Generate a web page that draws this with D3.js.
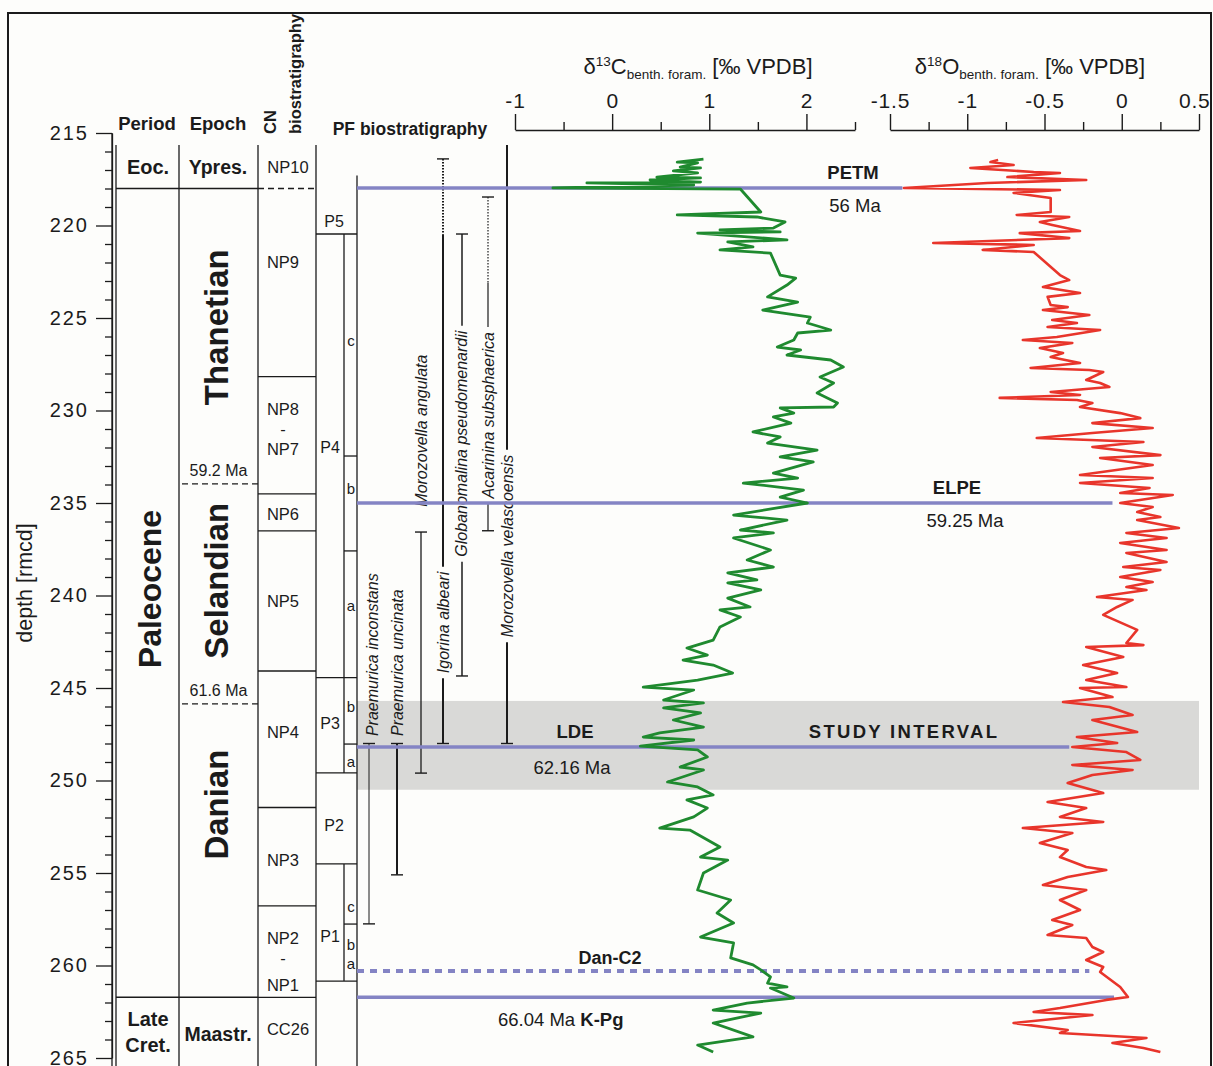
<!DOCTYPE html>
<html>
<head>
<meta charset="utf-8">
<script src="https://cdn.jsdelivr.net/npm/d3@7"></script>
<style>
  body { margin: 0; background: #fdfdfb; }
  svg { display: block; font-family: "Liberation Sans", Arial, sans-serif; }
</style>
</head>
<body>
<svg id="chart" width="1213" height="1066"></svg>
<script>
// ---------------- data ----------------
const depthTicks = [215, 220, 225, 230, 235, 240, 245, 250, 255, 260, 265];
const c13Ticks = [-1, 0, 1, 2];
const c13Minor = [-0.5, 0.5, 1.5, 2.5];
const o18Ticks = [-1.5, -1, -0.5, 0, 0.5];
const o18Minor = [-1.25, -0.75, -0.25, 0.25];

// benthic foraminifera delta13C (permil VPDB) against depth (rmcd)
const c13Depth = [216.41,216.57,216.62,216.84,216.89,217.05,217.16,217.38,217.43,217.54,
  217.65,217.70,217.81,217.97,218.03,219.27,219.43,219.54,219.81,220.14,
  220.24,220.35,220.41,220.78,220.89,221.16,221.32,221.49,222.68,222.84,
  223.22,223.86,224.14,224.57,224.95,225.27,225.65,225.81,226.19,226.57,
  226.73,227.00,227.27,227.65,228.19,228.51,229.05,229.59,229.81,229.86,
  230.14,230.35,230.68,231.16,231.43,231.76,232.14,232.51,232.78,233.38,
  233.65,233.92,234.30,234.68,235.00,235.65,235.92,236.46,236.62,236.89,
  237.54,238.08,238.46,238.78,239.16,239.32,239.70,240.14,240.62,240.78,
  241.16,241.70,242.41,242.84,243.22,243.49,243.76,244.19,244.57,244.95,
  245.11,245.65,245.81,246.08,246.35,246.73,247.11,247.43,247.65,247.81,
  248.14,248.35,248.73,249.27,249.43,250.08,250.35,250.78,251.05,251.49,
  251.97,252.57,252.68,253.59,254.14,254.30,255.00,255.92,256.46,257.16,
  257.70,258.46,258.78,259.59,259.97,260.24,260.62,260.95,261.16,261.22,
  261.76,262.03,262.41,262.57,263.11,263.86,264.30,264.68];
const c13Value = [0.94,0.67,0.88,0.70,0.91,0.63,0.88,0.46,0.91,0.39,
  0.91,-0.26,0.84,-0.61,1.32,1.53,0.67,1.49,1.78,1.66,
  1.11,1.73,0.88,1.80,1.19,1.45,1.11,1.63,1.73,1.89,
  1.80,1.60,1.91,1.55,2.04,2.01,2.25,1.91,1.87,1.70,
  1.94,1.80,2.25,2.38,2.14,2.28,2.11,2.32,2.28,1.73,
  1.87,1.66,1.84,1.45,1.73,1.60,2.11,1.73,2.07,1.66,
  1.91,1.35,1.97,1.73,2.01,1.25,1.80,1.32,1.66,1.25,
  1.63,1.39,1.66,1.19,1.49,1.19,1.53,1.19,1.42,1.11,
  1.32,1.11,1.04,0.77,0.98,0.73,1.04,1.24,0.88,0.32,
  0.84,0.53,0.94,0.53,0.91,0.63,0.94,0.49,0.32,0.84,
  0.29,0.88,0.98,0.70,0.94,0.57,0.88,1.04,0.77,0.98,
  0.84,0.49,0.80,1.11,0.91,1.19,0.94,0.88,1.22,1.08,
  1.25,0.91,1.25,1.22,1.45,1.53,1.63,1.60,1.80,1.63,
  1.87,1.39,1.04,1.53,1.04,1.45,0.88,1.04];

// benthic foraminifera delta18O (permil VPDB) against depth (rmcd)
const o18Depth = [216.46,216.57,216.73,216.89,217.11,217.16,217.38,217.54,217.70,217.97,
  218.08,218.24,218.51,219.27,219.43,219.54,219.81,219.97,220.30,220.41,
  220.68,220.95,221.05,221.32,221.43,222.68,222.95,223.32,223.65,223.86,
  224.30,224.41,224.57,224.84,225.11,225.27,225.49,225.65,226.03,226.19,
  226.35,226.62,226.89,227.11,227.43,227.70,227.81,227.92,228.35,228.51,
  228.73,229.00,229.16,229.32,229.43,229.59,229.81,230.14,230.41,230.68,
  230.95,231.22,231.49,231.70,231.97,232.41,232.57,232.95,233.49,233.65,
  233.92,234.19,234.46,234.57,235.00,235.22,235.49,235.76,235.92,236.35,
  236.62,236.89,237.16,237.54,237.70,238.19,238.46,238.62,239.00,239.27,
  239.54,239.70,240.08,240.24,240.62,241.05,241.86,242.57,242.68,242.78,
  243.32,243.76,244.19,244.57,244.95,245.00,245.49,245.76,246.03,246.46,
  246.73,247.38,247.65,247.97,248.19,248.46,248.89,249.16,249.43,249.70,
  250.14,250.68,251.16,251.49,251.97,252.24,252.57,252.84,253.38,253.76,
  254.14,254.68,254.84,255.22,255.65,255.92,256.46,257.00,257.54,257.81,
  258.35,258.51,259.00,259.27,259.70,260.08,260.35,261.16,261.70,261.86,
  262.30,262.51,262.68,263.11,263.49,263.65,263.92,264.19,264.46,264.68];
const o18Value = [-0.80,-0.85,-0.70,-0.98,-0.57,-0.40,-0.74,-0.23,-0.87,-1.41,
  -0.40,-0.70,-0.46,-0.46,-0.68,-0.34,-0.53,-0.45,-0.27,-0.66,
  -0.34,-1.22,-0.57,-0.90,-0.57,-0.40,-0.34,-0.51,-0.27,-0.48,
  -0.46,-0.35,-0.51,-0.21,-0.45,-0.29,-0.48,-0.14,-0.42,-0.64,
  -0.32,-0.53,-0.38,-0.46,-0.27,-0.59,-0.21,-0.12,-0.23,-0.14,
  -0.08,-0.46,-0.27,-0.79,-0.29,-0.19,-0.27,-0.01,0.12,-0.19,
  0.20,-0.19,-0.55,0.14,-0.19,0.25,-0.14,0.20,-0.27,0.20,
  -0.27,0.18,-0.01,0.33,-0.01,0.20,0.10,0.25,0.10,0.37,
  0.03,0.29,-0.01,0.29,0.03,0.29,0.01,0.25,-0.01,0.20,
  0.03,0.16,-0.16,0.07,-0.03,-0.12,0.10,0.03,0.14,-0.23,
  0.01,-0.25,-0.03,-0.23,0.03,-0.27,-0.06,-0.38,-0.08,0.07,
  -0.19,0.10,-0.29,-0.03,-0.32,0.03,0.12,-0.32,0.07,-0.19,
  -0.35,-0.12,-0.48,-0.23,-0.40,-0.12,-0.64,-0.32,-0.53,-0.35,
  -0.40,-0.23,-0.10,-0.35,-0.51,-0.23,-0.40,-0.27,-0.45,-0.32,
  -0.48,-0.23,-0.19,-0.12,-0.23,-0.12,-0.14,-0.01,0.04,-0.10,
  -0.40,-0.57,-0.19,-0.70,-0.35,-0.40,0.16,-0.06,0.14,0.25];

// chronostratigraphy (boundary depths in rmcd)
const sectionTop = 215.65;
const sectionBase = 266.5;
const periodBounds = [218.0, 261.72];
const epochBounds = [218.0, 261.72];
const epochAgeBounds = [233.97, 245.86];
const epochAgeLabels = ["59.2 Ma", "61.6 Ma"];
const periodNames = ["Eoc.", "Paleocene", "Late", "Cret."];
const periodLabelDepth = [216.84, 239.65, 262.9, 264.3];
const epochNames = ["Ypres.", "Thanetian", "Selandian", "Danian", "Maastr."];
const epochLabelDepth = [216.84, 225.5, 239.2, 251.3, 263.7];

// calcareous nannofossil zones
const cnBounds = [228.17, 234.51, 236.51, 244.08, 251.46, 256.78, 261.72];
const cnDashed = [218.0];
const cnNames = ["NP10", "NP9", "NP8", "-", "NP7", "NP6", "NP5", "NP4", "NP3", "NP2", "-", "NP1", "CC26"];
const cnLabelDepth = [216.84, 222.0, 229.92, 231.0, 232.08, 235.62, 240.3, 247.38, 254.3, 258.51, 259.62, 261.08, 263.46];

// planktic foraminifera zones
const pfBounds = [220.46, 244.44, 249.59, 254.51, 260.84];
const pfSubBounds = [232.46, 237.59, 248.03, 257.76];
const pfSubSpans = [[220.46, 249.59], [254.51, 260.84]];
const pfNames = ["P5", "P4", "P3", "P2", "P1"];
const pfLabelDepth = [219.78, 231.97, 246.92, 252.4, 258.43];
const pfSplit = [false, true, true, false, true];
const pfSubNames = ["c", "b", "a", "b", "a", "c", "b", "a"];
const pfSubDepth = [226.3, 234.3, 240.62, 246.08, 249.05, 256.89, 258.95, 259.97];

// planktic foraminifera ranges
const speciesNames = ["Praemurica inconstans", "Praemurica uncinata", "Morozovella angulata",
  "Igorina albeari", "Globanomalina pseudomenardii", "Acarinina subsphaerica", "Morozovella velascoensis"];
const speciesTop = [248.0, 248.0, 236.57, 216.4, 220.46, 218.46, 215.65];
const speciesBase = [257.75, 255.1, 249.6, 248.0, 244.35, 236.5, 248.0];
const speciesDottedTo = [null, null, null, 220.5, null, 223.1, null];
const speciesOpenTop = [false, false, false, false, false, false, true];

// events
const eventNames = ["PETM", "ELPE", "LDE", "Dan-C2", "K-Pg"];
const eventDepth = [217.97, 235.0, 248.19, 260.3, 261.72];
const eventEndO18 = [-1.42, -0.06, -0.34, -0.21, -0.05];
const eventDashed = [false, false, false, true, false];
const eventAges = ["56 Ma", "59.25 Ma", "62.16 Ma", "", "66.04 Ma"];
const studyInterval = [245.7, 250.5];

// ---------------- scales ----------------
const svg = d3.select("#chart");
const INK = "#1b1b1b";
const y = d3.scaleLinear().domain([215, 265]).range([133, 1058]);
const xC = d3.scaleLinear().domain([-1, 2.5]).range([515, 855]);
const xO = d3.scaleLinear().domain([-1.5, 0.5]).range([890, 1199]);

// column layout
const AX = 112, P0 = 116, P1 = 179, E1 = 258, C1 = 316, PFS = 344, PF1 = 357;

function hline(x1, x2, yy, w, dash) {
  const l = svg.append("line").attr("x1", x1).attr("x2", x2).attr("y1", yy).attr("y2", yy)
    .attr("stroke", INK).attr("stroke-width", w || 1.2);
  if (dash) l.attr("stroke-dasharray", dash);
  return l;
}
function vline(x, y1, y2, w, dash, color) {
  const l = svg.append("line").attr("x1", x).attr("x2", x).attr("y1", y1).attr("y2", y2)
    .attr("stroke", color || INK).attr("stroke-width", w || 1.2);
  if (dash) l.attr("stroke-dasharray", dash);
  return l;
}
function label(x, yy, str, size, weight, anchor) {
  return svg.append("text").attr("x", x).attr("y", yy).attr("dy", "0.36em")
    .attr("text-anchor", anchor || "middle").attr("font-size", size)
    .attr("font-weight", weight || "normal").attr("fill", INK).text(str);
}
function vlabel(x, yy, str, size, weight, anchor, style) {
  return svg.append("text").attr("transform", `translate(${x},${yy}) rotate(-90)`)
    .attr("dy", "0.36em").attr("text-anchor", anchor || "middle").attr("font-size", size)
    .attr("font-weight", weight || "normal").attr("font-style", style || "normal")
    .attr("fill", INK).text(str);
}

// outer frame
svg.append("rect").attr("x", 8).attr("y", 13).attr("width", 1203).attr("height", 1090)
  .attr("fill", "none").attr("stroke", INK).attr("stroke-width", 2);

// study interval band
svg.append("rect").attr("x", PF1).attr("y", y(studyInterval[0]))
  .attr("width", xO(0.5) - PF1).attr("height", y(studyInterval[1]) - y(studyInterval[0]))
  .attr("fill", "#d9d9d7");

// ---------------- depth axis ----------------
const yAxis = svg.append("g").attr("transform", `translate(${AX},0)`)
  .call(d3.axisLeft(y).tickValues(depthTicks).tickSize(16).tickPadding(7).tickSizeOuter(0));
const minorDepth = d3.range(216, 266).filter(d => d % 5 !== 0);
const yMinor = svg.append("g").attr("transform", `translate(${AX},0)`)
  .call(d3.axisLeft(y).tickValues(minorDepth).tickSize(7).tickFormat(""));
yMinor.select(".domain").remove();
[yAxis, yMinor].forEach(g => {
  g.attr("font-family", null).attr("font-size", null);
  g.selectAll("line,path").attr("stroke", INK).attr("stroke-width", 1.3);
  g.selectAll("text").attr("font-size", 20).attr("letter-spacing", 2).attr("fill", INK);
});
vline(AX, y(215), y(sectionBase), 1.3);
vlabel(24, 583, "depth [rmcd]", 21.5);

// ---------------- stratigraphic columns ----------------
const yTop = y(sectionTop), yBot = y(sectionBase);
[P0, P1, E1, C1].forEach(x => vline(x, yTop, yBot, 1.3));
vline(PF1, y(217.3), yBot, 1.3);

periodBounds.forEach(d => hline(P0, P1, y(d), 1.4));
epochBounds.forEach(d => hline(P1, E1, y(d), 1.4));
epochAgeBounds.forEach((d, i) => {
  hline(P1 + 3, E1, y(d), 1.3, "6,4");
  label((P1 + E1) / 2, y(d) - 14, epochAgeLabels[i], 16);
});
cnBounds.forEach(d => hline(E1, C1, y(d), 1.3));
cnDashed.forEach(d => hline(E1, C1, y(d), 1.3, "6,4"));
pfBounds.forEach(d => hline(C1, PF1, y(d), 1.3));
pfSubBounds.forEach(d => hline(PFS, PF1, y(d), 1.3));
pfSubSpans.forEach(s => vline(PFS, y(s[0]), y(s[1]), 1.3));

// column headers
label(147, 123, "Period", 18.5, "bold");
label(218, 123, "Epoch", 18.5, "bold");
vlabel(270, 134, "CN", 16.5, "bold", "start");
vlabel(295, 134, "biostratigraphy", 16.5, "bold", "start");
label(410, 129, "PF biostratigraphy", 17.5, "bold");

// period labels
periodNames.forEach((n, i) => {
  if (n === "Paleocene") vlabel(149, y(periodLabelDepth[i]), n, 32, "bold");
  else label(148, y(periodLabelDepth[i]), n, 20, "bold");
});
// epoch labels
epochNames.forEach((n, i) => {
  if (n === "Ypres." || n === "Maastr.") label(218, y(epochLabelDepth[i]), n, 19.5, "bold");
  else vlabel(216, y(epochLabelDepth[i]), n, 33, "bold");
});
// CN zone labels
cnNames.forEach((n, i) => label(n === "CC26" || n === "NP10" ? 288 : 283, y(cnLabelDepth[i]), n, 16.5));
// PF zone labels
pfNames.forEach((n, i) => label(pfSplit[i] ? 330 : 334, y(pfLabelDepth[i]), n, 16));
pfSubNames.forEach((n, i) => label(351, y(pfSubDepth[i]) - 1, n, 15));

// ---------------- species ranges ----------------
const speciesX = [369, 397, 421, 443, 462, 488, 507];
const speciesTextX = [372, 397, 421, 443, 461, 488, 507];
const speciesLabelBase = [247.6, 247.6, 235.2, 244.2, 237.9, 234.75, 242.25];
const speciesWidth = [1, 2, 1.3, 2, 1.5, 1.2, 2];

speciesNames.forEach((n, i) => {
  const x = speciesX[i];
  const t = vlabel(speciesTextX[i], y(speciesLabelBase[i]), n, 16, "normal", "start", "italic");
  const len = t.node().getComputedTextLength();
  const gap = [y(speciesLabelBase[i]) - len - 5, y(speciesLabelBase[i]) + 5];
  const top = y(speciesTop[i]), base = y(speciesBase[i]);
  const w = speciesWidth[i];
  const dotEnd = speciesDottedTo[i] != null ? y(speciesDottedTo[i]) : top;
  // draw a segment minus the label gap
  function seg(a, b, dash) {
    if (b <= a) return;
    if (b <= gap[0] || a >= gap[1]) { vline(x, a, b, w, dash); return; }
    if (a < gap[0]) vline(x, a, gap[0], w, dash);
    if (b > gap[1]) vline(x, gap[1], b, w, dash);
  }
  if (dotEnd > top) seg(top, dotEnd, "1.5,1.5");
  seg(dotEnd, base);
  if (!speciesOpenTop[i]) hline(x - 6, x + 6, top, 1.4);
  hline(x - 6, x + 6, base, 1.4);
});

// ---------------- event lines ----------------
const EVC = "#8484c4";
eventNames.forEach((n, i) => {
  const l = svg.append("line").attr("x1", PF1).attr("x2", xO(eventEndO18[i]))
    .attr("y1", y(eventDepth[i])).attr("y2", y(eventDepth[i]))
    .attr("stroke", EVC).attr("stroke-width", eventDashed[i] ? 4 : 3.5);
  if (eventDashed[i]) l.attr("stroke-dasharray", "7,6");
});

// ---------------- isotope curves ----------------
const c13 = c13Depth.map((d, i) => ({ d, v: c13Value[i] }));
const o18 = o18Depth.map((d, i) => ({ d, v: o18Value[i] }));
svg.append("path").datum(c13)
  .attr("d", d3.line().x(p => xC(p.v)).y(p => y(p.d)))
  .attr("fill", "none").attr("stroke", "#1f8a2f").attr("stroke-width", 2.8)
  .attr("stroke-linejoin", "round");
svg.append("path").datum(o18)
  .attr("d", d3.line().x(p => xO(p.v)).y(p => y(p.d)))
  .attr("fill", "none").attr("stroke", "#e8352b").attr("stroke-width", 2.6)
  .attr("stroke-linejoin", "round");

// ---------------- isotope axes ----------------
function isoAxis(scale, major, minor) {
  const g = svg.append("g").attr("transform", "translate(0,130)")
    .call(d3.axisTop(scale).tickValues(major).tickSize(16).tickPadding(6)
      .tickSizeOuter(0).tickFormat(d => String(d)));
  const gm = svg.append("g").attr("transform", "translate(0,130)")
    .call(d3.axisTop(scale).tickValues(minor).tickSize(8).tickFormat(""));
  gm.select(".domain").remove();
  [g, gm].forEach(a => {
    a.attr("font-family", null).attr("font-size", null);
    a.selectAll("line,path").attr("stroke", INK).attr("stroke-width", 1.4);
    a.selectAll("text").attr("font-size", 21).attr("letter-spacing", 0.8).attr("fill", INK);
  });
  return g;
}
isoAxis(xC, c13Ticks, c13Minor);
const oAxis = isoAxis(xO, o18Ticks, o18Minor);
// last label sits against the frame edge
oAxis.selectAll(".tick text").filter(d => d === 0.5).attr("text-anchor", "end").attr("x", 11);

function isoTitle(cx, iso, el) {
  const t = svg.append("text").attr("x", cx).attr("y", 74).attr("text-anchor", "middle")
    .attr("font-size", 22).attr("fill", INK);
  t.append("tspan").text("δ");
  t.append("tspan").attr("font-size", 13.5).attr("dy", -8).text(iso);
  t.append("tspan").attr("dy", 8).text(el);
  t.append("tspan").attr("font-size", 13.5).attr("dy", 5).text("benth. foram.");
  t.append("tspan").attr("dy", -5).text(" [‰ VPDB]");
}
isoTitle(698, "13", "C");
isoTitle(1030, "18", "O");

// ---------------- event labels ----------------
label(853, y(eventDepth[0]) - 16, eventNames[0], 18.5, "bold");
label(855, y(eventDepth[0]) + 17, eventAges[0], 18.5);
label(957, y(eventDepth[1]) - 16, eventNames[1], 18.5, "bold");
label(965, y(eventDepth[1]) + 17, eventAges[1], 18.5);
label(575, y(eventDepth[2]) - 16, eventNames[2], 18.5, "bold");
label(572, y(eventDepth[2]) + 20, eventAges[2], 18.5);
label(610, y(eventDepth[3]) - 14, eventNames[3], 18, "bold");
const kpg = svg.append("text").attr("x", 498).attr("y", y(eventDepth[4]) + 22).attr("dy", "0.36em")
  .attr("font-size", 18.5).attr("fill", INK);
kpg.append("tspan").text(eventAges[4] + " ");
kpg.append("tspan").attr("font-weight", "bold").text(eventNames[4]);
label(904, y(eventDepth[2]) - 16, "STUDY INTERVAL", 18.5, "bold").attr("letter-spacing", 2.3);
</script>
</body>
</html>
